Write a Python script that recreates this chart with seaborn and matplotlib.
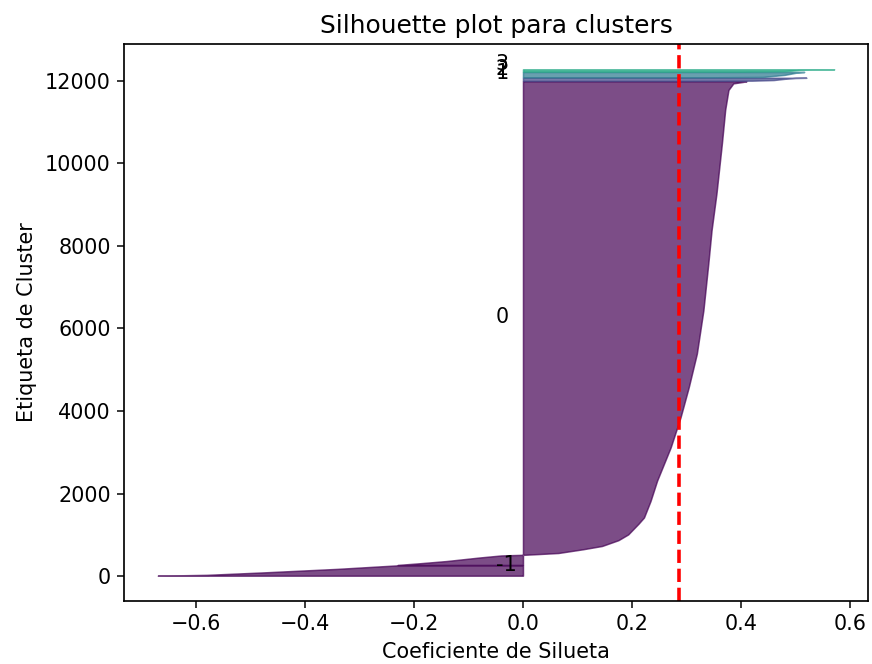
import numpy as np
import matplotlib
matplotlib.use("Agg")
import matplotlib.pyplot as plt
from matplotlib import cm
import seaborn as sns

# Cluster labels (-1 = noise) and the number of points in each cluster
cluster_labels = [-1, 0, 1, 2, 3]
cluster_sizes = [250, 11720, 75, 130, 55]

# Sorted silhouette coefficients per cluster, sampled at positions (rank) within the cluster
rank_noise = [0, 20, 80, 165, 250]
sil_noise = [-0.67, -0.58, -0.475, -0.34, -0.23]

rank_c0 = [0, 40, 95, 180, 230, 245, 265, 290, 380, 460, 600, 740, 1000, 1150,
           1550, 2040, 2850, 3575, 4300, 5120, 6170, 7300, 8110, 9000, 10220,
           11030, 11510, 11670, 11705, 11720]
sil_c0 = [-0.23, -0.19, -0.14, -0.08, -0.04, 0.0, 0.03, 0.065, 0.11, 0.145, 0.175,
          0.193, 0.212, 0.222, 0.234, 0.246, 0.271, 0.289, 0.304, 0.319, 0.331,
          0.340, 0.346, 0.355, 0.365, 0.371, 0.377, 0.386, 0.404, 0.41]

rank_c1 = [0, 5, 20, 50, 70, 75]
sil_c1 = [0.30, 0.42, 0.46, 0.48, 0.50, 0.52]

rank_c2 = [0, 10, 60, 110, 125, 130]
sil_c2 = [0.33, 0.44, 0.48, 0.50, 0.51, 0.516]

rank_c3 = [0, 10, 40, 50, 55]
sil_c3 = [0.40, 0.48, 0.51, 0.53, 0.571]

silhouette_avg = 0.286

ranks = [rank_noise, rank_c0, rank_c1, rank_c2, rank_c3]
sils = [sil_noise, sil_c0, sil_c1, sil_c2, sil_c3]

sns.set_style("ticks", {
    "axes.edgecolor": "black",
    "axes.labelcolor": "black",
    "text.color": "black",
    "xtick.color": "black",
    "ytick.color": "black",
})
plt.rcParams["font.family"] = ["DejaVu Sans"]
plt.rcParams["font.size"] = 11
plt.rcParams["axes.linewidth"] = 0.9

fig, ax = plt.subplots(figsize=(872 / 136, 664 / 136), dpi=136)
fig.subplots_adjust(left=124 / 872, right=868 / 872, bottom=1 - 601 / 664, top=1 - 44 / 664)

n_colors = len(cluster_labels)
y_lower = 10
for label, size, rk, sv in zip(cluster_labels, cluster_sizes, ranks, sils):
    y_vals = y_lower + np.asarray(rk, dtype=float)
    color = cm.viridis(max(float(label), 0.0) / n_colors)
    ax.fill_betweenx(y_vals, 0, sv, facecolor=color, edgecolor=color,
                     linewidth=0.8, alpha=0.7)
    ax.text(-0.05, y_lower + 0.5 * size, str(label))
    y_lower = y_lower + size + 10

ax.axvline(x=silhouette_avg, color="red", linestyle="--", linewidth=1.9)
ax.set_title("Silhouette plot para clusters")
ax.set_xlabel("Coeficiente de Silueta")
ax.set_ylabel("Etiqueta de Cluster")

fig.savefig("out.png", dpi=136)
